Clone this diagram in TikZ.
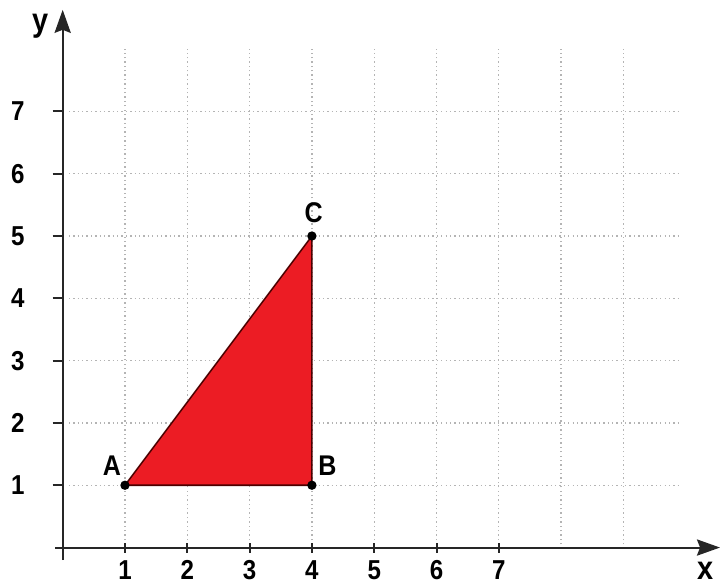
\documentclass[tikz,border=0pt]{standalone}
\usepackage{fontspec}
\setmainfont{Liberation Sans}
\newfontfamily\condsans[FakeStretch=0.88]{Liberation Sans}
\usetikzlibrary{arrows.meta}
\definecolor{trired}{HTML}{EC1C24}
\definecolor{gridgray}{HTML}{B4B4B4}
\tikzset{
  axis/.style={line width=0.9pt, draw=black!85},
  gridline/.style={draw=gridgray, line width=0.6pt, dash pattern=on 0.6pt off 1.4pt},
  tick/.style={axis},
  num/.style={font=\condsans\bfseries\fontsize{12.5}{13}\selectfont, inner sep=0pt},
  axlab/.style={font=\condsans\bfseries\fontsize{15}{16}\selectfont, inner sep=0pt},
  ptlab/.style={font=\condsans\bfseries\fontsize{13}{14}\selectfont, inner sep=0pt},
  dot/.style={circle, fill=black, inner sep=0pt, minimum size=0.15cm},
  axtip/.style={-{Stealth[length=0.37cm, width=0.26cm, inset=0.05cm]}}
}
\begin{document}
\begin{tikzpicture}
\useasboundingbox (-1.006,-0.586) rectangle (10.55,8.788);
% grid
\foreach \x in {1,...,9} \draw[gridline] (\x,0.05) -- (\x,8);
\foreach \y in {1,...,7} \draw[gridline] (0.1,\y) -- (9.9,\y);
% axes
\coordinate (xs) at (-0.12,0);
\coordinate (xe) at (10.55,0);
\coordinate (ys) at (0,-0.2);
\coordinate (ye) at (0,8.63);
\draw[axis, axtip] (xs) -- (xe);
\draw[axis, axtip] (ys) -- (ye);
\foreach \x in {1,...,7} {
  \draw[tick] (\x,-0.08) -- (\x,0.08);
  \node[num] (xl\x) at (\x,-0.36) {\x};
}
\foreach \y in {1,...,7} {
  \draw[tick] (-0.16,\y) -- (0,\y);
  \node[num] (yl\y) at (-0.72,\y) {\y};
}
\node[axlab] (ylab) at (-0.36,8.36) {y};
\node[axlab] (xlab) at (10.31,-0.37) {x};
% triangle
\coordinate (A) at (1,1);
\coordinate (B) at (4,1);
\coordinate (C) at (4,5);
\filldraw[fill=trired, draw=black!70!red, line width=0.7pt] (A) -- (B) -- (C) -- cycle;
\node[dot] (dA) at (A) {};
\node[dot] (dB) at (B) {};
\node[dot] (dC) at (C) {};
\node[ptlab] (lA) at (0.79,1.31) {A};
\node[ptlab] (lB) at (4.25,1.32) {B};
\node[ptlab] (lC) at (4.03,5.37) {C};
\end{tikzpicture}
\end{document}
